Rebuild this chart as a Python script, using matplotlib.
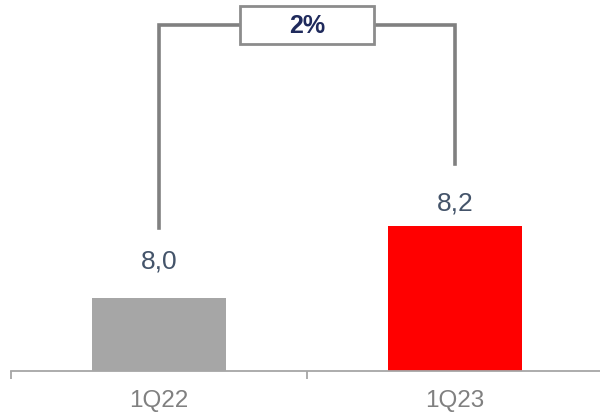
import matplotlib.pyplot as plt
from matplotlib.patches import Rectangle

plt.rcParams['font.family'] = ['Liberation Sans', 'DejaVu Sans']

# dados
categorias = ['1Q22', '1Q23']
valores = [8.0, 8.2]
rotulos = ['8,0', '8,2']
variacao = '2%'

cores = ['#a6a6a6', '#ff0000']
cor_texto = '#44546a'

fig = plt.figure(figsize=(6, 4.14), dpi=100)
ax = fig.add_axes([11 / 600, 42 / 414, 592 / 600, 372 / 414])

x = range(len(categorias))
ax.bar(x, valores, width=0.456, color=cores, zorder=2)
ax.set_xlim(-0.5, 1.5)
ax.set_ylim(7.8, 8.826)

# rotulos dos valores (offset em pixels acima da barra)
offs = [31, 16]
for i, v in enumerate(valores):
    ax.annotate(rotulos[i], (i, v), xytext=(0, offs[i]), textcoords='offset pixels',
                ha='center', va='baseline', fontsize=19, color=cor_texto)

# colchete com a variacao
topo = 8.754
ax.plot([0, 0, 1, 1], [valores[0] + 0.195, topo, topo, valores[1] + 0.17],
        color='#808080', lw=2.6, solid_joinstyle='miter', zorder=3)
ax.add_patch(Rectangle((0.5 - 0.228, topo - 0.052), 0.456, 0.104,
                       facecolor='white', edgecolor='#8c8c8c', lw=2, zorder=4))
ax.text(0.5, topo, variacao, ha='center', va='center', fontsize=18,
        fontweight='bold', color='#1f2a5c', zorder=5)

# eixos
for s in ['top', 'right', 'left']:
    ax.spines[s].set_visible(False)
ax.spines['bottom'].set_color('#a6a6a6')
ax.spines['bottom'].set_linewidth(1.3)
ax.set_yticks([])
ax.set_xticks(list(x))
ax.set_xticklabels(categorias, fontsize=17.5, color='#808080')
ax.tick_params(axis='x', which='major', length=0, pad=13)
ax.set_xticks([-0.5, 0.5, 1.5], minor=True)
ax.tick_params(axis='x', which='minor', length=6, width=1.3, color='#a6a6a6')

fig.savefig('out.png', dpi=100)
